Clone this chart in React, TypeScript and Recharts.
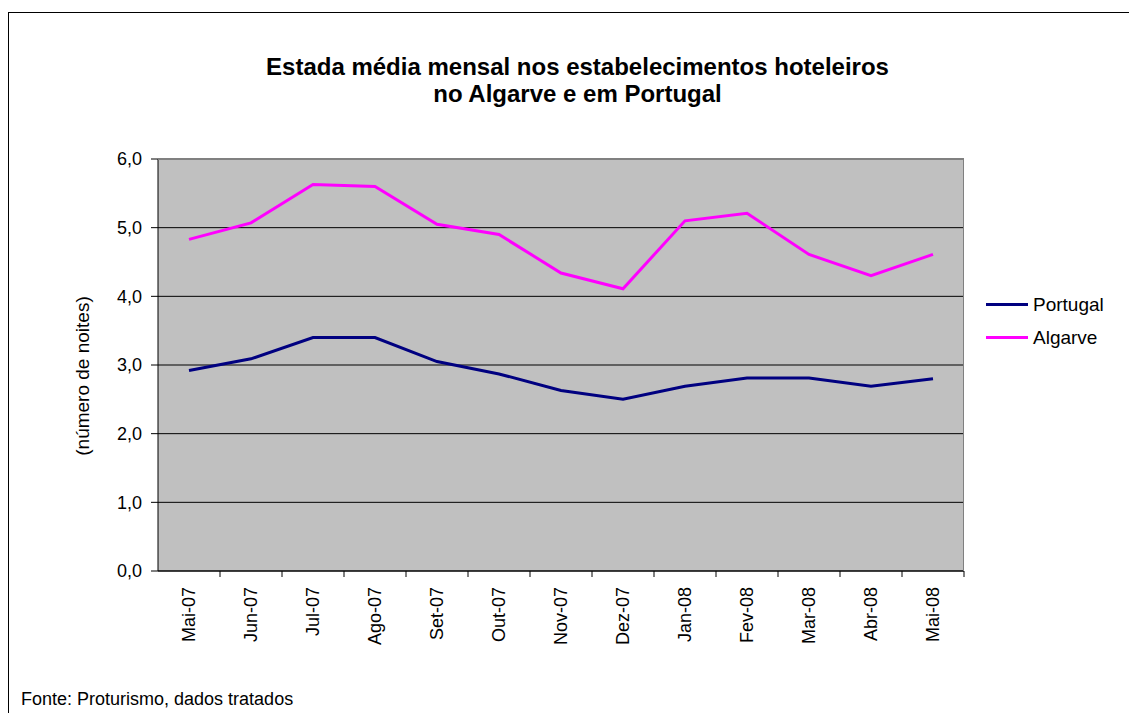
import React from "react"
import { LineChart, Line, XAxis, YAxis, CartesianGrid, Legend } from "recharts"

const meses = ["Mai-07", "Jun-07", "Jul-07", "Ago-07", "Set-07", "Out-07", "Nov-07", "Dez-07", "Jan-08", "Fev-08", "Mar-08", "Abr-08", "Mai-08"]
const portugal = [2.92, 3.09, 3.4, 3.4, 3.05, 2.87, 2.63, 2.5, 2.69, 2.81, 2.81, 2.69, 2.8]
const algarve = [4.83, 5.07, 5.63, 5.6, 5.05, 4.9, 4.34, 4.11, 5.1, 5.21, 4.61, 4.3, 4.61]
const yTicks = [0, 1, 2, 3, 4, 5, 6]

const series = [
  { key: "Portugal", color: "#000080" },
  { key: "Algarve", color: "#ff00ff" },
]

const data = meses.map((mes, i) => ({
  mes,
  Portugal: portugal[i],
  Algarve: algarve[i],
}))

const FONT = '"Liberation Sans", Arial, sans-serif'
const W = 1129
const H = 713
const PLOT_LEFT = 158
const PLOT_RIGHT = 964
const PLOT_TOP = 159
const PLOT_BOTTOM = 571
const HALF_BAND = (PLOT_RIGHT - PLOT_LEFT) / meses.length / 2

const XTick = (props: any) => {
  const { x, y, payload } = props
  return (
    <g>
      <line x1={x + HALF_BAND} y1={y} x2={x + HALF_BAND} y2={y + 6} stroke="#000" />
      <text
        x={x + 6}
        y={y + 16}
        transform={`rotate(-90, ${x + 6}, ${y + 16})`}
        textAnchor="end"
        fontSize={18}
        fill="#000"
      >
        {payload.value}
      </text>
    </g>
  )
}

const LegendBox = () => (
  <div style={{ fontFamily: FONT, fontSize: 19, color: "#000" }}>
    {series.map((s) => (
      <div key={s.key} style={{ display: "flex", alignItems: "center", height: 33 }}>
        <div style={{ width: 42, height: 3, background: s.color, marginRight: 5 }} />
        <span>{s.key}</span>
      </div>
    ))}
  </div>
)

export default function App() {
  return (
    <div
      style={{
        position: "absolute",
        left: 0,
        top: 0,
        width: W,
        height: H,
        overflow: "hidden",
        background: "#fff",
        fontFamily: FONT,
      }}
    >
      <div
        style={{
          position: "absolute",
          left: 8,
          top: 12,
          width: 1300,
          height: 900,
          border: "1px solid #000",
        }}
      />
      <div
        style={{
          position: "absolute",
          left: 0,
          width: W,
          top: 53,
          paddingLeft: 26,
          boxSizing: "border-box",
          textAlign: "center",
          fontWeight: "bold",
          fontSize: 24,
          lineHeight: "27px",
          color: "#000",
        }}
      >
        Estada média mensal nos estabelecimentos hoteleiros
        <br />
        no Algarve e em Portugal
      </div>
      <div
        style={{
          position: "absolute",
          left: 83,
          top: 376,
          transform: "translate(-50%, -50%) rotate(-90deg)",
          whiteSpace: "nowrap",
          fontSize: 19,
          color: "#000",
        }}
      >
        (número de noites)
      </div>
      <div
        style={{
          position: "absolute",
          left: 21,
          top: 689,
          fontSize: 18,
          color: "#000",
          whiteSpace: "nowrap",
        }}
      >
        Fonte: Proturismo, dados tratados
      </div>

      <div style={{ position: "absolute", left: 0, top: 0 }}>
        <LineChart
          width={W}
          height={H}
          data={data}
          margin={{ top: PLOT_TOP, right: W - PLOT_RIGHT, bottom: 0, left: 100 }}
        >
          <CartesianGrid vertical={false} stroke="#000" fill="#c0c0c0" fillOpacity={1} />
          <XAxis
            dataKey="mes"
            interval={0}
            height={H - PLOT_BOTTOM}
            padding={{ left: HALF_BAND, right: HALF_BAND }}
            tickLine={false}
            tickSize={0}
            tickMargin={0}
            axisLine={{ stroke: "#000" }}
            tick={<XTick />}
          />
          <YAxis
            width={PLOT_LEFT - 100}
            domain={[0, 6]}
            ticks={yTicks}
            tickSize={7}
            tickMargin={9}
            axisLine={{ stroke: "#000" }}
            tickLine={{ stroke: "#000" }}
            tick={{ fill: "#000", fontSize: 18 }}
            tickFormatter={(v: number) => v.toFixed(1).replace(".", ",")}
          />
          <Legend
            layout="horizontal"
            verticalAlign="middle"
            align="center"
            content={<LegendBox />}
            wrapperStyle={{ position: "absolute", left: 986, top: 288, width: 140, height: 70 }}
          />
          {series.map((s) => (
            <Line
              key={s.key}
              type="linear"
              dataKey={s.key}
              stroke={s.color}
              strokeWidth={3}
              dot={false}
              activeDot={false}
              isAnimationActive={false}
            />
          ))}
        </LineChart>
      </div>

      <div
        style={{
          position: "absolute",
          left: PLOT_LEFT,
          top: PLOT_TOP,
          width: PLOT_RIGHT - PLOT_LEFT,
          height: PLOT_BOTTOM - PLOT_TOP,
          borderTop: "1px solid #808080",
          borderRight: "1px solid #808080",
          boxSizing: "border-box",
          pointerEvents: "none",
        }}
      />
    </div>
  )
}
